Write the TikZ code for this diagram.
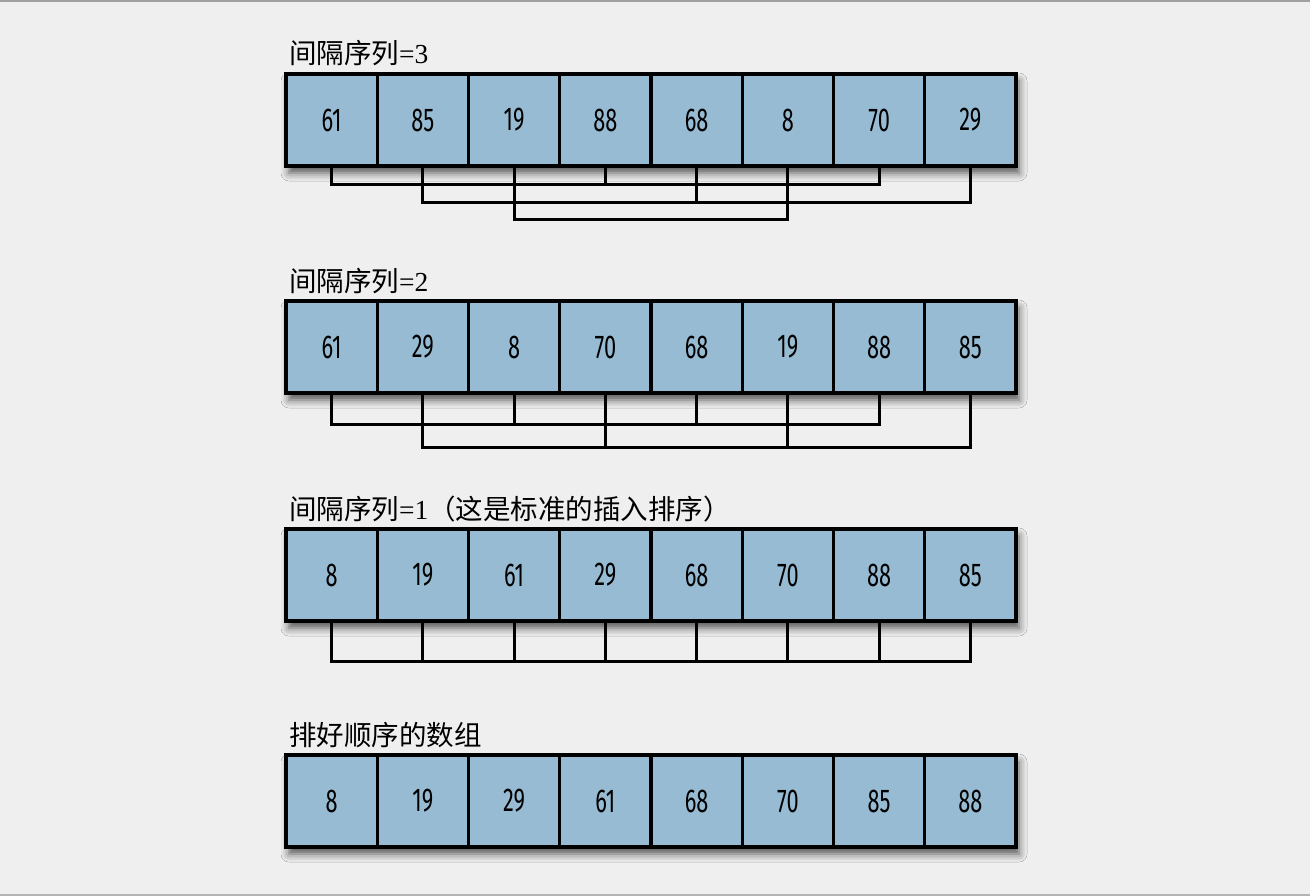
\documentclass[tikz,border=0pt]{standalone}
\usepackage{fontspec}
\usetikzlibrary{shadows.blur}
\newfontfamily\cjk{Noto Sans CJK SC}
\newfontfamily\numfont[FakeStretch=0.66]{Fira Sans}
\newfontfamily\serifnum{Liberation Serif}
\definecolor{bg}{HTML}{EFEFEF}
\definecolor{cellblue}{HTML}{97BBD3}
\definecolor{topline}{HTML}{A0A0A0}
\definecolor{botline}{HTML}{B4B4B4}
\begin{document}
\begin{tikzpicture}[x=1pt,y=-1pt,
  cell/.style={draw=black,line width=3.4pt,fill=cellblue,minimum width=91.25pt,minimum height=92pt,inner sep=0pt,font=\numfont\fontsize{33}{33}\selectfont},
  conn/.style={draw=black,line width=3.2pt,line join=miter},
  rowlabel/.style={anchor=base west,inner sep=0pt,font=\fontsize{27.5}{27.5}\selectfont},
  rowshadow/.style={blur shadow={shadow xshift=3pt,shadow yshift=-7pt,shadow blur radius=8pt,shadow opacity=65}}]
\fill[bg] (0,0) rectangle (1310,896);
\useasboundingbox (0,0) rectangle (1310,896);
\fill[topline] (0,0) rectangle (1310,2);
\fill[botline] (0,894) rectangle (1310,896);

% labels
\node[rowlabel] (l1) at (289,64) {{\cjk 间隔序列}{\serifnum =3}};
\node[rowlabel] (l2) at (289,291) {{\cjk 间隔序列}{\serifnum =2}};
\node[rowlabel] (l3) at (289,519) {{\cjk 间隔序列}{\serifnum =1}{\cjk （这是标准的插入排序）}};
\node[rowlabel] (l4) at (289,745) {\cjk 排好顺序的数组};

% shadows
\path[rowshadow] (286,74) rectangle (1016,166);
\path[rowshadow] (286,301) rectangle (1016,393);
\path[rowshadow] (286,529) rectangle (1016,621);
\path[rowshadow] (286,755) rectangle (1016,847);

% row 1
\foreach \v [count=\i from 0] in {61,85,19,88,68,8,70,29}
  \node[cell] (a\i) at ({286+91.25*(\i+0.5)},120) {\v};
% row 2
\foreach \v [count=\i from 0] in {61,29,8,70,68,19,88,85}
  \node[cell] (b\i) at ({286+91.25*(\i+0.5)},347) {\v};
% row 3
\foreach \v [count=\i from 0] in {8,19,61,29,68,70,88,85}
  \node[cell] (c\i) at ({286+91.25*(\i+0.5)},575) {\v};
% row 4
\foreach \v [count=\i from 0] in {8,19,29,61,68,70,85,88}
  \node[cell] (d\i) at ({286+91.25*(\i+0.5)},801) {\v};

% connectors row 1 (gap 3)
\draw[conn] (a0.south) -- ++(0,17) -| (a6.south);
\draw[conn] (a3.south) -- ++(0,17);
\draw[conn] (a1.south) -- ++(0,35) -| (a7.south);
\draw[conn] (a4.south) -- ++(0,35);
\draw[conn] (a2.south) -- ++(0,52) -| (a5.south);

% connectors row 2 (gap 2)
\draw[conn] (b0.south) -- ++(0,30) -| (b6.south);
\draw[conn] (b2.south) -- ++(0,30);
\draw[conn] (b4.south) -- ++(0,30);
\draw[conn] (b1.south) -- ++(0,53) -| (b7.south);
\draw[conn] (b3.south) -- ++(0,53);
\draw[conn] (b5.south) -- ++(0,53);

% connectors row 3 (gap 1)
\draw[conn] (c0.south) -- ++(0,39) -| (c7.south);
\foreach \i in {1,...,6}
  \draw[conn] (c\i.south) -- ++(0,39);
\end{tikzpicture}
\end{document}
